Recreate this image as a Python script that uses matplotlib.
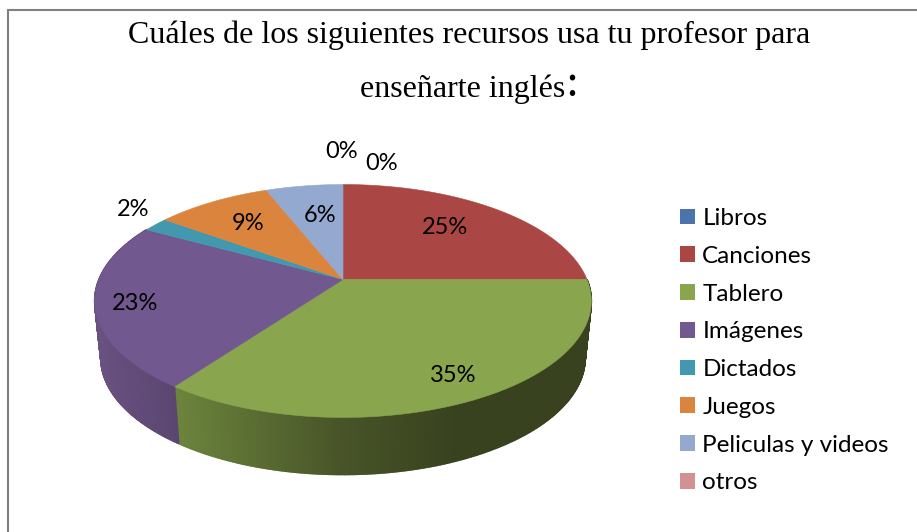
#!/usr/bin/env python3
import numpy as np
import matplotlib
matplotlib.use('Agg')
import matplotlib.pyplot as plt
from matplotlib.colors import to_rgb
from matplotlib.patches import Patch

categories = ['Libros', 'Canciones', 'Tablero', 'Imágenes', 'Dictados', 'Juegos', 'Peliculas y videos', 'otros']
percent = [0, 25, 35, 23, 2, 9, 6, 0]
colors = ['#4A74AB', '#AA4643', '#89A54E', '#71588F', '#4198AF', '#DB843D', '#93A9CF', '#D19392']
label_pos = [(382, 163), (445, 228), (453, 376), (135, 304), (133, 210), (248, 223), (320, 215), (342, 152)]

CX, CY = 343, 279.5
RX, RY, PERSP = 244, 112.5, 0.1845
SIDE_DROP, SIDE_SHRINK = 57, 0.975


def top_edge(angle):
    # angle is clockwise from 12 o'clock, in degrees
    t = np.radians(angle)
    u, v = np.sin(t), np.cos(t)
    s = 1 / (1 + PERSP * v)
    return CX + RX * u * s, CY - RY * v * s


def bottom_edge(angle):
    x, y = top_edge(angle)
    return CX + (x - CX) * SIDE_SHRINK, y + SIDE_DROP


def side_color(name, x):
    if name == 'Tablero':
        xs = [179, 340, 455, 600]
        stops = ['#6B833C', '#485428', '#38421F', '#38421F']
    else:
        xs = [95, 179]
        stops = ['#695180', '#5A4570']
    rgb = np.array([to_rgb(c) for c in stops])
    return [np.interp(x, xs, rgb[:, i]) for i in range(3)]


fig = plt.figure(figsize=(9.17, 5.32), dpi=100)
ax = fig.add_axes([0, 0, 1, 1])
ax.set_xlim(0, 917)
ax.set_ylim(532, 0)
ax.axis('off')

# frame only shows on the left and top, the rest got cropped
ax.plot([8, 8, 917], [532, 10, 10], color='#808080', linewidth=1.5, solid_joinstyle='miter')

# side walls first, then the top of the pie over them
start = 0
wedges = []
for name, pct, col in zip(categories, percent, colors):
    end = start + pct * 3.6
    wedges.append((name, start, end, col))
    start = end

for name, a0, a1, col in wedges:
    if name not in ('Tablero', 'Imágenes'):
        continue
    edges = np.linspace(a0, a1, int(a1 - a0) * 2 + 2)
    for e0, e1 in zip(edges[:-1], edges[1:]):
        x0, y0 = top_edge(e0)
        x1, y1 = top_edge(e1)
        x2, y2 = bottom_edge(e1)
        x3, y3 = bottom_edge(e0)
        c = side_color(name, (x0 + x1) / 2)
        ax.fill([x0, x1, x2, x3], [y0, y1, y2, y3], color=c, linewidth=1.2, zorder=2)

for name, a0, a1, col in wedges:
    if a1 <= a0:
        continue
    ang = np.linspace(a0, a1, 200)
    xs, ys = top_edge(ang)
    ax.fill(np.r_[CX, xs], np.r_[CY, ys], color=col, linewidth=0.4, zorder=3)

for pct, (x, y) in zip(percent, label_pos):
    ax.text(x, y, f'{pct}%', ha='center', va='center', fontsize=17, family='Lato', color='black', zorder=4)

ax.text(469, 35, 'Cuáles de los siguientes recursos usa tu profesor para', ha='center', va='center',
        fontsize=23, family='Liberation Serif')
ax.text(360, 89, 'enseñarte inglés', ha='left', va='center', fontsize=23, family='Liberation Serif')
ax.text(572, 85, ':', ha='center', va='center', fontsize=34, family='Liberation Serif')

handles = [Patch(facecolor=c, edgecolor='none') for c in colors]
ax.legend(handles, categories, loc='upper left', bbox_to_anchor=(680, 208), bbox_transform=ax.transData,
          frameon=False, prop={'family': 'Lato', 'size': 17.5}, handlelength=0.62, handleheight=0.62,
          handletextpad=0.3, labelspacing=0.69, borderpad=0, borderaxespad=0)

plt.savefig('out.png', dpi=100)
